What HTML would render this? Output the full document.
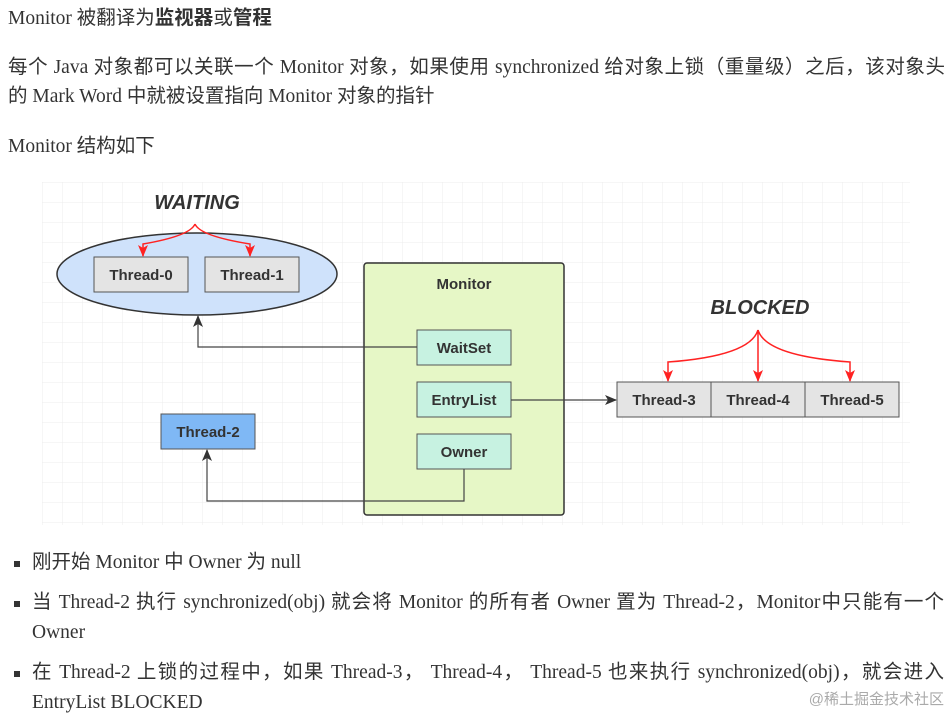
<!DOCTYPE html>
<html><head><meta charset="utf-8"><style>
body{margin:0;width:950px;height:715px;background:#fff;overflow:hidden;position:relative;font-family:"Liberation Serif","Noto Sans CJK SC",serif;color:#333;font-size:19.5px}
.t{position:absolute;left:8px;white-space:nowrap;line-height:24px}
.j{text-align:justify;text-align-last:justify;width:937px}
.b{position:absolute;left:14px;width:6px;height:6px;background:#333}
.sans{font-family:"Liberation Sans","Noto Sans CJK SC",sans-serif}
</style></head><body>
<div class="t" style="top:6px">Monitor 被翻译为<b class="sans">监视器</b>或<b class="sans">管程</b></div>
<div class="t j" style="top:56px">每个 Java 对象都可以关联一个 Monitor 对象，如果使用 synchronized 给对象上锁（重量级）之后，该对象头</div>
<div class="t" style="top:85px">的 Mark Word 中就被设置指向 Monitor 对象的指针</div>
<div class="t" style="top:135px">Monitor 结构如下</div>

<svg style="position:absolute;left:0;top:0" width="950" height="715">
<defs>
<pattern id="g" width="20" height="20" patternUnits="userSpaceOnUse" x="42" y="182"><path d="M0 0H20M0 0V20" stroke="#ececec" stroke-width="1" fill="none"/></pattern>
<marker id="ab" markerWidth="12" markerHeight="12" refX="11" refY="6" orient="auto" markerUnits="userSpaceOnUse"><path d="M0 1L12 6L0 11L3 6Z" fill="#333"/></marker>
<marker id="ar" markerWidth="12" markerHeight="12" refX="11" refY="6" orient="auto" markerUnits="userSpaceOnUse"><path d="M0 1L12 6L0 11L3 6Z" fill="#f22"/></marker>
</defs>
<rect x="42" y="182" width="868" height="343" fill="url(#g)"/>
<g font-family="Liberation Sans, sans-serif" font-weight="bold" font-size="15" fill="#333" text-anchor="middle">
<text x="197" y="209" font-style="italic" font-size="20">WAITING</text>
<text x="760" y="314" font-style="italic" font-size="20">BLOCKED</text>
<ellipse cx="197" cy="274" rx="140" ry="41" fill="#cfe2fb" stroke="#333" stroke-width="1.5"/>
<rect x="94" y="257" width="94" height="35" fill="#e4e4e4" stroke="#555"/>
<text x="141" y="280">Thread-0</text>
<rect x="205" y="257" width="94" height="35" fill="#e4e4e4" stroke="#555"/>
<text x="252" y="280">Thread-1</text>
<rect x="364" y="263" width="200" height="252" rx="3" fill="#e6f7c6" stroke="#333" stroke-width="1.5"/>
<text x="464" y="289">Monitor</text>
<rect x="417" y="330" width="94" height="35" fill="#c7f2e1" stroke="#555"/>
<text x="464" y="353">WaitSet</text>
<rect x="417" y="382" width="94" height="35" fill="#c7f2e1" stroke="#555"/>
<text x="464" y="405">EntryList</text>
<rect x="417" y="434" width="94" height="35" fill="#c7f2e1" stroke="#555"/>
<text x="464" y="457">Owner</text>
<rect x="161" y="414" width="94" height="35" fill="#7fb8f5" stroke="#555"/>
<text x="208" y="437">Thread-2</text>
<rect x="617" y="382" width="94" height="35" fill="#e4e4e4" stroke="#555"/>
<text x="664" y="405">Thread-3</text>
<rect x="711" y="382" width="94" height="35" fill="#e4e4e4" stroke="#555"/>
<text x="758" y="405">Thread-4</text>
<rect x="805" y="382" width="94" height="35" fill="#e4e4e4" stroke="#555"/>
<text x="852" y="405">Thread-5</text>
</g>
<g fill="none" stroke="#444" stroke-width="1.2">
<path d="M417 347H198V316" marker-end="url(#ab)"/>
<path d="M464 469V501H207V450" marker-end="url(#ab)"/>
<path d="M511 400H616" marker-end="url(#ab)"/>
</g>
<g fill="none" stroke="#f22" stroke-width="1.5">
<path d="M195 224Q190 236 143 244V256" marker-end="url(#ar)"/>
<path d="M195 224Q200 236 250 244V256" marker-end="url(#ar)"/>
<path d="M758 330Q750 356 668 362V381" marker-end="url(#ar)"/>
<path d="M758 330V381" marker-end="url(#ar)"/>
<path d="M758 330Q766 356 850 362V381" marker-end="url(#ar)"/>
</g>
</svg>

<div class="b" style="top:561px"></div>
<div class="t" style="left:32px;top:551px">刚开始 Monitor 中 Owner 为 null</div>
<div class="b" style="top:601px"></div>
<div class="t j" style="left:32px;top:591px;width:912px">当 Thread-2 执行 synchronized(obj) 就会将 Monitor 的所有者 Owner 置为 Thread-2，Monitor中只能有一个</div>
<div class="t" style="left:32px;top:621px">Owner</div>
<div class="b" style="top:671px"></div>
<div class="t j" style="left:32px;top:661px;width:912px">在 Thread-2 上锁的过程中，如果 Thread-3， Thread-4， Thread-5 也来执行 synchronized(obj)，就会进入</div>
<div class="t" style="left:32px;top:691px">EntryList BLOCKED</div>
<div style="position:absolute;right:6px;top:688px;font-size:15px;color:#aaa;font-family:'Liberation Sans','Noto Sans CJK SC',sans-serif">@稀土掘金技术社区</div>
</body></html>
